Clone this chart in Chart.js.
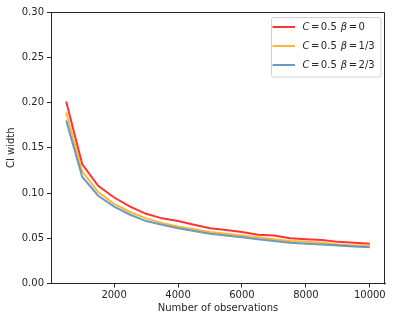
<!DOCTYPE html>
<html>
<head>
<meta charset="utf-8">
<script src="https://cdn.jsdelivr.net/npm/chart.js@4.4.0/dist/chart.umd.min.js"></script>
<style>
html, body { margin: 0; padding: 0; background: #fff; }
#wrap { width: 393px; height: 321px; position: relative; }
</style>
</head>
<body>
<div id="wrap"><canvas id="chart"></canvas></div>
<script>
const observations = [500, 1000, 1500, 2000, 2500, 3000, 3500, 4000, 4500, 5000,
                      5500, 6000, 6500, 7000, 7500, 8000, 8500, 9000, 9500, 10000];
const widthBeta0 = [0.201, 0.132, 0.108, 0.095, 0.085, 0.077, 0.072, 0.069, 0.065, 0.061,
                    0.059, 0.057, 0.054, 0.053, 0.050, 0.049, 0.048, 0.046, 0.045, 0.044];
const widthBeta13 = [0.189, 0.124, 0.101, 0.088, 0.079, 0.072, 0.067, 0.063, 0.060, 0.057,
                     0.055, 0.053, 0.051, 0.049, 0.047, 0.046, 0.045, 0.043, 0.042, 0.042];
const widthBeta23 = [0.180, 0.118, 0.097, 0.085, 0.076, 0.069, 0.065, 0.061, 0.058, 0.055,
                     0.053, 0.051, 0.049, 0.047, 0.045, 0.044, 0.043, 0.042, 0.041, 0.040];
const cValue = '0.5';
const betaLabels = ['0', '1/3', '2/3'];
const xTicks = [2000, 4000, 6000, 8000, 10000];
const yTicks = [0, 0.05, 0.10, 0.15, 0.20, 0.25, 0.30];

const FONT = '"DejaVu Sans", sans-serif';
const INK = '#262626';

const toPoints = (arr) => observations.map((x, i) => ({ x: x, y: arr[i] }));

// box round the plot + legend in the upper right, matplotlib style
const frameAndLegend = {
    id: 'frameAndLegend',
    afterDraw(chart) {
        const ctx = chart.ctx;
        const ca = chart.chartArea;
        ctx.save();
        ctx.strokeStyle = INK;
        ctx.lineWidth = 1;
        ctx.beginPath();
        ctx.moveTo(Math.round(ca.left) + 0.5, Math.round(ca.top) + 0.5);
        ctx.lineTo(Math.round(ca.right) - 0.5, Math.round(ca.top) + 0.5);
        ctx.lineTo(Math.round(ca.right) - 0.5, Math.round(ca.bottom) + 0.5);
        ctx.stroke();

        const x0 = ca.right - 114.5, y0 = ca.top + 4.5, w = 109.5, h = 59.5;
        ctx.beginPath();
        ctx.roundRect(Math.round(x0) + 0.5, Math.round(y0) + 0.5, w, h, 2);
        ctx.fillStyle = 'rgba(255,255,255,0.8)';
        ctx.fill();
        ctx.strokeStyle = '#d0d0d0';
        ctx.stroke();

        chart.data.datasets.forEach((ds, i) => {
            const y = y0 + 10.5 + i * 19;
            ctx.strokeStyle = ds.borderColor;
            ctx.lineWidth = 2;
            ctx.beginPath();
            ctx.moveTo(x0 + 2, y);
            ctx.lineTo(x0 + 24.5, y);
            ctx.stroke();

            const pieces = [
                ['C', true, 1.5], ['=', false, 1.5], [cValue, false, 4],
                ['\u03b2', true, 1.5], ['=', false, 1.5], [betaLabels[i], false, 0]
            ];
            let tx = x0 + 32;
            ctx.fillStyle = INK;
            ctx.textBaseline = 'middle';
            ctx.textAlign = 'left';
            for (const [t, it, gap] of pieces) {
                ctx.font = (it ? 'italic ' : '') + '10px ' + FONT;
                ctx.fillText(t, tx, y + 0.5);
                tx += ctx.measureText(t).width + gap;
            }
        });
        ctx.restore();
    }
};

const createCIChart = () => {
    const ctx = document.getElementById('chart');
    new Chart(ctx, {
        type: 'line',
        data: {
            datasets: [{
                label: 'beta0',
                data: toPoints(widthBeta0),
                borderColor: 'rgba(255, 0, 0, 0.8)',
                order: 3
            }, {
                label: 'beta13',
                data: toPoints(widthBeta13),
                borderColor: 'rgba(255, 165, 0, 0.8)',
                order: 2
            }, {
                label: 'beta23',
                data: toPoints(widthBeta23),
                borderColor: 'rgba(70, 130, 180, 0.8)',
                order: 1
            }]
        },
        options: {
            responsive: true,
            maintainAspectRatio: false,
            animation: false,
            devicePixelRatio: 1,
            layout: { padding: { top: 12, right: 8, left: 0, bottom: 0 } },
            elements: {
                line: { borderWidth: 2, tension: 0, fill: false },
                point: { radius: 0 }
            },
            plugins: {
                legend: { display: false },
                tooltip: { enabled: false }
            },
            scales: {
                x: {
                    type: 'linear',
                    min: 25,
                    max: 10475,
                    afterBuildTicks: (s) => { s.ticks = xTicks.map(v => ({ value: v })); },
                    afterFit: (s) => { s.height = 37.5; },
                    grid: { drawOnChartArea: false, tickLength: 4, color: INK },
                    border: { color: INK, width: 1 },
                    ticks: {
                        color: INK, padding: 2, maxRotation: 0,
                        font: { family: FONT, size: 10 },
                        callback: (v) => String(v)
                    },
                    title: {
                        display: true, text: 'Number of observations', color: INK,
                        font: { family: FONT, size: 10 }, padding: { top: 0, bottom: 7 }
                    }
                },
                y: {
                    min: 0,
                    max: 0.30,
                    afterBuildTicks: (s) => { s.ticks = yTicks.map(v => ({ value: v })); },
                    afterFit: (s) => { s.width = 51; },
                    grid: { drawOnChartArea: false, tickLength: 4, color: INK },
                    border: { color: INK, width: 1 },
                    ticks: {
                        color: INK, padding: 3,
                        font: { family: FONT, size: 10 },
                        callback: (v) => Number(v).toFixed(2)
                    },
                    title: {
                        display: true, text: 'CI width', color: INK,
                        font: { family: FONT, size: 10 }, padding: { top: 5.5, bottom: 0 }
                    }
                }
            }
        },
        plugins: [frameAndLegend]
    });
};

createCIChart();
</script>
</body>
</html>
